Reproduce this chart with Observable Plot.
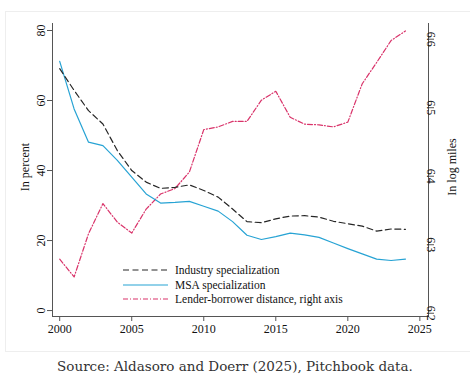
<!DOCTYPE html>
<html><head><meta charset="utf-8">
<script src="https://cdn.jsdelivr.net/npm/d3@7"></script>
<script src="https://cdn.jsdelivr.net/npm/@observablehq/plot@0.6"></script>
<style>
body{margin:0;background:#fff;}
#wrap{position:relative;width:470px;height:382px;overflow:hidden;}
#panel{position:absolute;left:5px;top:11px;width:466px;height:341px;border:1px solid #eeeeee;box-sizing:border-box;}
#chart{position:absolute;left:5px;top:11px;}
#legend{position:absolute;left:123px;top:263px;font-family:"Liberation Serif",serif;font-size:11.5px;color:#111;}
#legend .row{display:flex;align-items:center;height:14.5px;}
#legend svg{margin-right:7px;}
#caption{position:absolute;left:0;width:470px;top:358px;text-align:center;font-family:"DejaVu Serif",serif;font-size:13.5px;color:#333;}
</style>
</head><body>
<div id="wrap">
  <div id="panel"></div>
  <div id="chart"></div>
  <div id="legend"></div>
  <div id="caption">Source: Aldasoro and Doerr (2025), Pitchbook data.</div>
</div>
<script>
const years = [2000,2001,2002,2003,2004,2005,2006,2007,2008,2009,2010,2011,2012,2013,2014,2015,2016,2017,2018,2019,2020,2021,2022,2023,2024];
const industry = [69.1,62.9,57.1,53.3,45.7,40.0,36.7,34.9,35.2,35.9,34.3,32.4,29.0,25.4,25.1,26.2,27.0,27.1,26.7,25.5,24.8,24.1,22.7,23.3,23.2];
const msa = [71.2,57.6,48.1,47.1,42.9,38.1,33.3,30.7,30.9,31.2,29.8,28.4,25.4,21.5,20.3,21.1,22.1,21.6,20.9,19.3,17.7,16.2,14.7,14.3,14.7];
const distance = [6.279,6.253,6.316,6.360,6.333,6.317,6.352,6.374,6.382,6.406,6.468,6.472,6.480,6.480,6.511,6.524,6.486,6.476,6.475,6.472,6.479,6.535,6.566,6.598,6.612];
const xTicks = [2000,2005,2010,2015,2020,2025];
const leftTicks = [0,20,40,60,80];
const rightTicks = [6.2,6.3,6.4,6.5,6.6];
const seriesNames = ["Industry specialization","MSA specialization","Lender-borrower distance, right axis"];
const leftTitle = "In percent";
const rightTitle = "In log miles";

const colIndustry = "#262626", colMsa = "#27a3d4", colDist = "#d9336a";
const dashIndustry = "6,3.5", dashDist = "5,2,1,2";

// right axis (log miles) mapped onto left (percent) scale
const toLeft = v => (-2.7 + (v - 6.2) * 685) / 3.5;

const data = years.map((y, i) => ({year: y, industry: industry[i], msa: msa[i], dist: toLeft(distance[i])}));

const axisColor = "#555";
const chart = Plot.plot({
  width: 465, height: 341,
  marginLeft: 47, marginRight: 42, marginTop: 12, marginBottom: 36,
  style: {fontFamily: "Liberation Serif, serif", fontSize: "12px", color: "#111", background: "transparent"},
  x: {domain: [1999.5, 2025.6]},
  y: {domain: [-1.7, 82]},
  marks: [
    Plot.frame({anchor: "left", stroke: axisColor}),
    Plot.frame({anchor: "right", stroke: axisColor}),
    Plot.frame({anchor: "bottom", stroke: axisColor}),
    Plot.axisY(leftTicks, {anchor: "left", tickRotate: -90, tickSize: 5, tickPadding: 3, label: null, stroke: axisColor, fill: "#111", fontSize: 12}),
    Plot.axisY(rightTicks, {anchor: "right", y: toLeft, tickFormat: d => d.toFixed(1), tickRotate: 90, tickSize: 5, tickPadding: 2, label: null, stroke: axisColor, fill: "#111", fontSize: 12}),
    Plot.axisX(xTicks, {anchor: "bottom", tickFormat: d => String(d), tickSize: 5, tickPadding: 3, label: null, stroke: axisColor, fill: "#111", fontSize: 12}),
    Plot.text([leftTitle], {frameAnchor: "left", dx: -27, dy: -3, rotate: -90, textAnchor: "middle", fontSize: 12, fill: "#111"}),
    Plot.text([rightTitle], {frameAnchor: "right", dx: 24, dy: -3, rotate: -90, textAnchor: "middle", fontSize: 12, fill: "#111"}),
    Plot.line(data, {x: "year", y: "dist", stroke: colDist, strokeWidth: 1.2, strokeDasharray: dashDist}),
    Plot.line(data, {x: "year", y: "msa", stroke: colMsa, strokeWidth: 1.2}),
    Plot.line(data, {x: "year", y: "industry", stroke: colIndustry, strokeWidth: 1.2, strokeDasharray: dashIndustry})
  ]
});
document.getElementById("chart").appendChild(chart);

const styles = [
  {stroke: colIndustry, dash: dashIndustry},
  {stroke: colMsa, dash: null},
  {stroke: colDist, dash: dashDist}
];
const leg = document.getElementById("legend");
seriesNames.forEach((name, i) => {
  const row = document.createElement("div");
  row.className = "row";
  const s = styles[i];
  row.innerHTML = `<svg width="45" height="6"><line x1="0" x2="45" y1="3" y2="3" stroke="${s.stroke}" stroke-width="1.2" ${s.dash ? `stroke-dasharray="${s.dash}"` : ""}/></svg><span></span>`;
  row.querySelector("span").textContent = name;
  leg.appendChild(row);
});
</script>
</body></html>
